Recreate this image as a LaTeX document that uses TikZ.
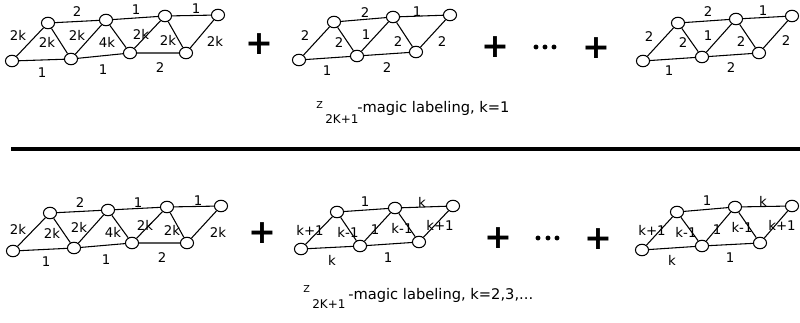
\documentclass[tikz,border=0pt]{standalone}
\usepackage{fontspec}
\setmainfont{DejaVu Sans}
\usetikzlibrary{shapes.geometric}
\begin{document}
\begin{tikzpicture}[x=0.75pt,y=-0.75pt,
  v/.style={draw,ellipse,minimum width=9.8pt,minimum height=8.6pt,inner sep=0pt,line width=0.8pt,fill=white},
  e/.style={line width=0.8pt},
  lab/.style={font=\fontsize{10}{12}\selectfont,inner sep=0pt},
  plus/.style={font=\fontsize{25}{25}\selectfont\bfseries,inner sep=0pt},
  dot/.style={circle,fill=black,inner sep=0pt,minimum size=3.7pt},
  captext/.style={font=\fontsize{11}{13}\selectfont,inner sep=0pt,anchor=base west},
  capz/.style={font=\fontsize{7.2}{9}\selectfont,inner sep=0pt,anchor=base west},
  caps/.style={font=\fontsize{9}{11}\selectfont,inner sep=0pt,anchor=base west},
]
\useasboundingbox (0,0) rectangle (800,322);

% ---------- top graph 1
\node[v] (a1) at (12,61) {}; \node[v] (a2) at (71,59) {}; \node[v] (a3) at (130,53) {}; \node[v] (a4) at (186,53) {};
\node[v] (at1) at (48,23) {}; \node[v] (at2) at (106,20) {}; \node[v] (at3) at (165,16) {}; \node[v] (at4) at (218,15) {};
\draw[e] (a1)--(a2) (a2)--(a3) (a3)--(a4) (at1)--(at2) (at2)--(at3) (at3)--(at4)
  (a1)--(at1) (at1)--(a2) (a2)--(at2) (at2)--(a3) (a3)--(at3) (at3)--(a4) (a4)--(at4);
\node[lab] (la1) at (18,35) {2k}; \node[lab] (la2) at (47,42) {2k}; \node[lab] (la3) at (77,35) {2k};
\node[lab] (la4) at (107,42) {4k}; \node[lab] (la5) at (141,34) {2k}; \node[lab] (la6) at (168,40) {2k};
\node[lab] (la7) at (215,41) {2k};
\node[lab] (la8) at (77,12) {2}; \node[lab] (la9) at (136,10) {1}; \node[lab] (la10) at (196,9) {1};
\node[lab] (la11) at (42,73) {1}; \node[lab] (la12) at (103,70) {1}; \node[lab] (la13) at (160,68) {2};

% ---------- top graph 2
\node[v] (b1) at (299,60) {}; \node[v] (b2) at (357,56) {}; \node[v] (b3) at (416,52) {};
\node[v] (bt1) at (334,22) {}; \node[v] (bt2) at (393,17) {}; \node[v] (bt3) at (450,15) {};
\draw[e] (b1)--(b2) (b2)--(b3) (bt1)--(bt2) (bt2)--(bt3)
  (b1)--(bt1) (bt1)--(b2) (b2)--(bt2) (bt2)--(b3) (b3)--(bt3);
\node[lab] (lb1) at (305,36) {2}; \node[lab] (lb2) at (339,43) {2}; \node[lab] (lb3) at (366,35) {1};
\node[lab] (lb4) at (398,42) {2}; \node[lab] (lb5) at (442,42) {2};
\node[lab] (lb6) at (365,13) {2}; \node[lab] (lb7) at (417,12) {1};
\node[lab] (lb8) at (327,71) {1}; \node[lab] (lb9) at (387,68) {2};

% ---------- top graph 3
\node[v] (c1) at (643,61) {}; \node[v] (c2) at (702,57) {}; \node[v] (c3) at (759,53) {};
\node[v] (ct1) at (678,23) {}; \node[v] (ct2) at (736,19) {}; \node[v] (ct3) at (792,16) {};
\draw[e] (c1)--(c2) (c2)--(c3) (ct1)--(ct2) (ct2)--(ct3)
  (c1)--(ct1) (ct1)--(c2) (c2)--(ct2) (ct2)--(c3) (c3)--(ct3);
\node[lab] (lc1) at (649,37) {2}; \node[lab] (lc2) at (683,43) {2}; \node[lab] (lc3) at (708,36) {1};
\node[lab] (lc4) at (741,42) {2}; \node[lab] (lc5) at (786,41) {2};
\node[lab] (lc6) at (708,12) {2}; \node[lab] (lc7) at (763,11) {1};
\node[lab] (lc8) at (669,71) {1}; \node[lab] (lc9) at (731,68) {2};

% ---------- top operators
\node[plus] (p1) at (259,44) {+};
\node[plus] (p2) at (495,47) {+};
\node[plus] (p3) at (596,48) {+};
\node[dot] (d1) at (536,47) {}; \node[dot] (d2) at (545,47) {}; \node[dot] (d3) at (554,47) {};

% ---------- caption 1
\node[capz] (z1) at (316,108.5) {Z};
\node[caps] (s1) at (325,123) {2K+1};
\node[captext] (m1) at (357,112) {-magic labeling, k=1};

% ---------- separator
\draw[line width=3pt] (11,149) -- (800,149);

% ---------- bottom graph 1
\node[v] (d1a) at (13,251) {}; \node[v] (d2a) at (74,248) {}; \node[v] (d3a) at (132,243) {}; \node[v] (d4a) at (187,243) {};
\node[v] (dt1) at (50,213) {}; \node[v] (dt2) at (108,210) {}; \node[v] (dt3) at (167,207) {}; \node[v] (dt4) at (221,206) {};
\draw[e] (d1a)--(d2a) (d2a)--(d3a) (d3a)--(d4a) (dt1)--(dt2) (dt2)--(dt3) (dt3)--(dt4)
  (d1a)--(dt1) (dt1)--(d2a) (d2a)--(dt2) (dt2)--(d3a) (d3a)--(dt3) (dt3)--(d4a) (d4a)--(dt4);
\node[lab] (ld1) at (18,229) {2k}; \node[lab] (ld2) at (52,233) {2k}; \node[lab] (ld3) at (79,227) {2k};
\node[lab] (ld4) at (113,232) {4k}; \node[lab] (ld5) at (145,225) {2k}; \node[lab] (ld6) at (172,230) {2k};
\node[lab] (ld7) at (218,232) {2k};
\node[lab] (ld8) at (80,203) {2}; \node[lab] (ld9) at (138,203) {1}; \node[lab] (ld10) at (198,201) {1};
\node[lab] (ld11) at (46,262) {1}; \node[lab] (ld12) at (106,260) {1}; \node[lab] (ld13) at (162,258) {2};

% ---------- bottom graph 2
\node[v] (e1) at (301,249) {}; \node[v] (e2) at (360,246) {}; \node[v] (e3) at (419,242) {};
\node[v] (et1) at (337,212) {}; \node[v] (et2) at (395,208) {}; \node[v] (et3) at (453,206) {};
\draw[e] (e1)--(e2) (e2)--(e3) (et1)--(et2) (et2)--(et3)
  (e1)--(et1) (et1)--(e2) (e2)--(et2) (et2)--(e3) (e3)--(et3);
\node[lab] (le1) at (310,230) {k+1}; \node[lab] (le2) at (348,232) {k-1}; \node[lab] (le3) at (375,230) {1};
\node[lab] (le4) at (402,228) {k-1}; \node[lab] (le5) at (440,225) {k+1};
\node[lab] (le6) at (365,202) {1}; \node[lab] (le7) at (422,202) {k};
\node[lab] (le8) at (332,260) {k}; \node[lab] (le9) at (388,258) {1};

% ---------- bottom graph 3
\node[v] (f1) at (642,250) {}; \node[v] (f2) at (702,246) {}; \node[v] (f3) at (760,243) {};
\node[v] (ft1) at (677,212) {}; \node[v] (ft2) at (735,207) {}; \node[v] (ft3) at (792,206) {};
\draw[e] (f1)--(f2) (f2)--(f3) (ft1)--(ft2) (ft2)--(ft3)
  (f1)--(ft1) (ft1)--(f2) (f2)--(ft2) (ft2)--(f3) (f3)--(ft3);
\node[lab] (lf1) at (652,230) {k+1}; \node[lab] (lf2) at (686,232) {k-1}; \node[lab] (lf3) at (717,230) {1};
\node[lab] (lf4) at (742,227) {k-1}; \node[lab] (lf5) at (782,225) {k+1};
\node[lab] (lf6) at (707,201) {1}; \node[lab] (lf7) at (763,201) {k};
\node[lab] (lf8) at (672,260) {k}; \node[lab] (lf9) at (730,258) {1};

% ---------- bottom operators
\node[plus] (q1) at (262,233) {+};
\node[plus] (q2) at (498,238) {+};
\node[plus] (q3) at (598,239) {+};
\node[dot] (g1) at (538,238) {}; \node[dot] (g2) at (548,238) {}; \node[dot] (g3) at (557,238) {};

% ---------- caption 2
\node[capz] (z2) at (303,292.5) {Z};
\node[caps] (s2) at (312,308) {2K+1};
\node[captext] (m2) at (348,299) {-magic labeling, k=2,3,...};
\end{tikzpicture}
\end{document}
